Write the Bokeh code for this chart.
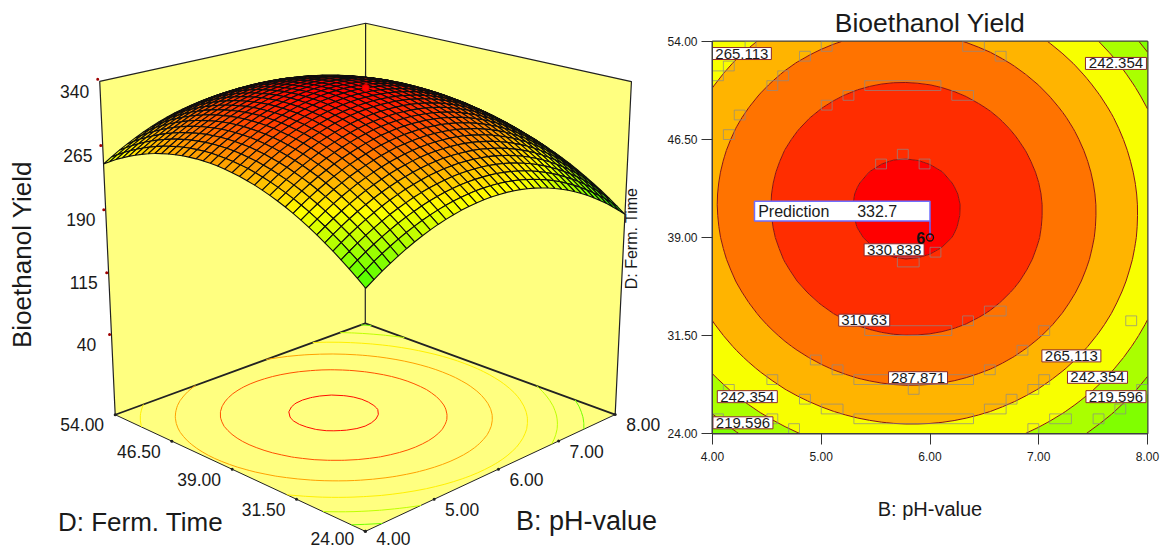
import numpy as np
from bokeh.core.properties import value
from bokeh.embed import file_html
from bokeh.layouts import row
from bokeh.models import ColumnDataSource, FixedTicker, PrintfTickFormatter, Range1d
from bokeh.plotting import figure
from bokeh.plotting.contour import contour_data
from bokeh.resources import INLINE

# ---- values ----
ph_grid = [4.000, 4.111, 4.222, 4.333, 4.444, 4.556, 4.667, 4.778, 4.889, 5.000, 5.111, 5.222,
           5.333, 5.444, 5.556, 5.667, 5.778, 5.889, 6.000, 6.111, 6.222, 6.333, 6.444, 6.556,
           6.667, 6.778, 6.889, 7.000, 7.111, 7.222, 7.333, 7.444, 7.556, 7.667, 7.778, 7.889,
           8.000]
time_grid = [24.0, 24.83, 25.67, 26.5, 27.33, 28.17, 29.0, 29.83, 30.67, 31.5, 32.33, 33.17,
             34.0, 34.83, 35.67, 36.5, 37.33, 38.17, 39.0, 39.83, 40.67, 41.5, 42.33, 43.17,
             44.0, 44.83, 45.67, 46.5, 47.33, 48.17, 49.0, 49.83, 50.67, 51.5, 52.33, 53.17,
             54.0]
peak_yield = 334.6
# section through the peak along pH, and along fermentation time
yield_vs_ph = [285.5, 291.4, 297.0, 302.1, 306.9, 311.3, 315.4, 319.0, 322.2, 325.1, 327.6,
               329.7, 331.5, 332.8, 333.8, 334.4, 334.6, 334.4, 333.9, 333.0, 331.7, 330.0,
               327.9, 325.5, 322.6, 319.4, 315.8, 311.9, 307.5, 302.8, 297.7, 292.2, 286.3,
               280.1, 273.4, 266.4, 259.0]
yield_vs_time = [258.9, 266.0, 272.9, 279.3, 285.4, 291.1, 296.5, 301.5, 306.2, 310.5, 314.5,
                 318.1, 321.3, 324.2, 326.8, 328.9, 330.8, 332.2, 333.4, 334.1, 334.5, 334.6,
                 334.3, 333.6, 332.6, 331.2, 329.5, 327.4, 325.0, 322.2, 319.0, 315.5, 311.6,
                 307.4, 302.9, 297.9, 292.7]
# slight tilt of the ellipses: pH factor and time factor of the cross term
tilt_ph = [.176, .165, .154, .143, .132, .121, .110, .099, .088, .077, .066, .055, .045, .034,
           .023, .012, .001, -.010, -.021, -.032, -.043, -.054, -.065, -.076, -.087, -.098,
           -.109, -.120, -.131, -.142, -.152, -.163, -.174, -.185, -.196, -.207, -.218]
tilt_time = [-17.2, -16.37, -15.53, -14.7, -13.87, -13.03, -12.2, -11.37, -10.53, -9.7, -8.87,
             -8.03, -7.2, -6.37, -5.53, -4.7, -3.87, -3.03, -2.2, -1.37, -.53, .3, 1.13, 1.97,
             2.8, 3.63, 4.47, 5.3, 6.13, 6.97, 7.8, 8.63, 9.47, 10.3, 11.13, 11.97, 12.8]

contour_levels = [219.596, 242.354, 265.113, 287.871, 310.63, 330.838]
band_colors = ["#80ff00", "#aaff00", "#f8ff00", "#ffb400", "#ff7300", "#ff2d00", "#ff0000"]
band_limits = [180.0, 340.0]

ph_ticks = [4.0, 5.0, 6.0, 7.0, 8.0]
time_ticks = [24.0, 31.5, 39.0, 46.5, 54.0]
yield_ticks = [40, 115, 190, 265, 340]
yield_floor = -58.0
yield_top = 340.0

pred_ph = [6.0]
pred_time = [39.0]
pred_yield = [332.7]
pred_count = ["6"]

label_text = ["265.113", "242.354", "330.838", "310.63", "287.871", "265.113", "242.354",
              "219.596", "242.354", "219.596"]
label_ph = [4.27, 7.71, 5.67, 5.395, 5.89, 7.30, 7.54, 7.71, 4.32, 4.28]
label_time = [53.08, 52.32, 38.06, 32.67, 28.27, 29.94, 28.30, 26.82, 26.82, 24.82]
label_width = [59, 61, 60, 51, 59, 59, 60, 60, 60, 60]

# grey grid cells left along the contours in the reference
cell_ph0 = [5.4, 5.2, 6.2, 5.0, 5.5, 5.9, 5.7, 6.0, 5.7, 4.3, 5.0, 4.8, 6.3, 6.6, 4.1, 4.0, 4.6,
            4.5, 4.2, 4.1, 5.4, 6.3, 6.5, 6.8, 7.0, 6.5, 4.9, 5.1, 5.3, 5.8, 4.5, 4.8, 5.0, 5.3,
            6.5, 6.7, 6.9, 7.0, 7.1, 6.9, 4.7, 4.5, 4.1, 4.0, 7.5, 7.7, 7.9, 7.8]
cell_ph1 = [6.1, 5.3, 6.4, 5.1, 5.6, 6.0, 5.8, 6.1, 5.9, 4.4, 5.1, 4.9, 6.5, 6.7, 4.2, 4.1, 4.7,
            4.6, 4.3, 4.2, 6.2, 6.4, 6.7, 6.9, 7.1, 6.6, 5.0, 5.2, 6.4, 5.9, 4.6, 4.9, 5.2, 6.4,
            6.7, 6.8, 7.0, 7.1, 7.3, 7.0, 4.8, 4.6, 4.2, 4.1, 7.6, 7.8, 8.0, 7.9]
cell_t0 = [50.25, 49.5, 49.5, 48.75, 44.25, 44.25, 45.0, 37.5, 36.75, 53.25, 53.25, 52.5, 53.25,
           52.5, 51.75, 51.0, 51.0, 50.25, 48.0, 46.5, 31.5, 32.25, 33.0, 30.0, 31.5, 28.5, 29.25,
           28.5, 27.75, 27.0, 27.75, 26.25, 25.5, 24.75, 25.5, 26.25, 27.0, 27.75, 24.75, 24.0,
           24.0, 24.75, 27.0, 24.75, 24.75, 25.5, 27.0, 32.25]
cell_t1 = [51.0, 50.25, 50.25, 49.5, 45.0, 45.0, 45.75, 38.25, 37.5, 54.0, 54.0, 53.25, 54.0,
           53.25, 52.5, 51.75, 51.75, 51.0, 48.75, 47.25, 32.25, 33.0, 33.75, 30.75, 32.25, 29.25,
           30.0, 29.25, 28.5, 27.75, 28.5, 27.0, 26.25, 25.5, 26.25, 27.0, 27.75, 28.5, 25.5, 24.75,
           24.75, 25.5, 27.75, 25.5, 25.5, 26.25, 27.75, 33.0]

FONT = value("Liberation Sans")
INK = "#1a1a1a"
WALL = "#ffff80"

ph = np.array(ph_grid)
tm = np.array(time_grid)
# rows = time, columns = pH
Z = (np.array(yield_vs_time)[:, None] + np.array(yield_vs_ph)[None, :] - peak_yield
     + np.array(tilt_time)[:, None] * np.array(tilt_ph)[None, :])

# ---- 3D view: homography fitted to the corners of the box as seen in the picture ----
cube = [(0, 0, 0, 365.0, 531.0), (1, 0, 0, 614.5, 414.0), (0, 1, 0, 114.5, 414.0),
        (1, 1, 0, 365.0, 323.0), (1, 1, 1, 365.0, 22.7), (1, 0, 1, 631.0, 81.0),
        (0, 1, 1, 99.3, 81.0)]
A, b = [], []
for X, Y, W, sx, sy in cube:
    A.append([X, Y, W, 1, 0, 0, 0, 0, -sx * X, -sx * Y, -sx * W]); b.append(sx)
    A.append([0, 0, 0, 0, X, Y, W, 1, -sy * X, -sy * Y, -sy * W]); b.append(sy)
H = np.linalg.lstsq(np.array(A, float), np.array(b, float), rcond=None)[0]


def project(B, D, Y):
    u = (np.asarray(B, float) - 4.0) / 4.0
    v = (np.asarray(D, float) - 24.0) / 30.0
    w = (np.asarray(Y, float) - yield_floor) / (yield_top - yield_floor)
    d = H[8] * u + H[9] * v + H[10] * w + 1
    return (H[0] * u + H[1] * v + H[2] * w + H[3]) / d, (H[4] * u + H[5] * v + H[6] * w + H[7]) / d


def ramp(z, lo=187.0, hi=334.6):
    t = min(max((z - lo) / (hi - lo), 0.0), 1.0)
    if t < 0.5:
        return "#%02x%02x00" % (int(510 * t), 255)
    return "#ff%02x00" % int(255 - (t - 0.5) * 510)


def label(p, x, y, text, size, angle=0.0, align="center", style="normal", color=INK):
    p.text(x=[x], y=[y], text=[text], text_font=FONT, text_font_size=size, angle=angle,
           text_align=align, text_baseline="middle", text_font_style=style, text_color=color)


# ---- left: response surface ----
left = figure(width=660, height=550, x_range=Range1d(0, 660), y_range=Range1d(550, 0),
              x_axis_type=None, y_axis_type=None, toolbar_location=None, output_backend="svg",
              min_border=0, outline_line_color=None)
left.frame_align = False
left.grid.visible = False

b0, b1, d0, d1 = ph_ticks[0], ph_ticks[-1], time_ticks[0], time_ticks[-1]
for corners in ([(b0, d1), (b1, d1)], [(b1, d1), (b1, d0)]):
    (ba, da), (bb, db) = corners
    xs, ys = project([ba, bb, bb, ba], [da, db, db, da],
                     [yield_floor, yield_floor, yield_top, yield_top])
    left.patch(list(xs), list(ys), fill_color=WALL, line_color=None)
xs, ys = project([b0, b1, b1, b0], [d0, d0, d1, d1], [yield_floor] * 4)
left.patch(list(xs), list(ys), fill_color=WALL, line_color=None)

# box edges
for pts, lw in (([(b0, d1, yield_floor), (b0, d1, yield_top), (b1, d1, yield_top),
                  (b1, d0, yield_top), (b1, d0, yield_floor)], 1.2),
                ([(b1, d1, yield_floor), (b1, d1, yield_top)], 1.2),
                ([(b0, d1, yield_floor), (b1, d1, yield_floor), (b1, d0, yield_floor)], 1.8),
                ([(b0, d1, yield_floor), (b0, d0, yield_floor), (b1, d0, yield_floor)], 1.0)):
    arr = np.array(pts)
    xs, ys = project(arr[:, 0], arr[:, 1], arr[:, 2])
    left.line(list(xs), list(ys), line_color="#222222", line_width=lw)

# contours on the floor
lines = contour_data(ph, tm, Z, contour_levels).line_data
for lx, ly, lev in zip(lines.xs, lines.ys, contour_levels):
    px, py = project(lx, ly, np.full(len(lx), yield_floor))
    left.line(list(px), list(py), line_color=ramp(lev), line_width=1)

# surface mesh, far quads first
qx, qy, qc, order = [], [], [], []
for i in range(len(ph) - 1):
    for j in range(len(tm) - 1):
        order.append((i + j, i, j))
SX, SY = project(ph[None, :], tm[:, None], Z)
for _, i, j in sorted(order, reverse=True):
    idx_j = [j, j, j + 1, j + 1]
    idx_i = [i, i + 1, i + 1, i]
    qx.append(SX[idx_j, idx_i].tolist())
    qy.append(SY[idx_j, idx_i].tolist())
    qc.append(ramp(float(Z[idx_j, idx_i].mean())))
left.patches("x", "y", source=ColumnDataSource(dict(x=qx, y=qy, c=qc)), fill_color="c",
             line_color="#0d0d0d", line_width=1.1)

mx, my = project(pred_ph, pred_time, pred_yield)
left.scatter(list(mx), list(my), size=7, fill_color="#ff0000", line_color="#e00000")

# ticks and tick labels
tx, ty = project([b0] * 5, [d1] * 5, yield_ticks)
left.scatter(list(tx - 2), list(ty - 2), size=3, fill_color="#a00000", line_color=None)
for x, y, t in zip(tx, ty, yield_ticks):
    label(left, x - 25, y + (10 if t == yield_ticks[-1] else 8), str(t), "17.5px")
tx, ty = project([b0] * 5, time_ticks, [yield_floor] * 5)
left.scatter(list(tx), list(ty), size=3, fill_color="#222222", line_color=None)
for x, y, t in zip(tx, ty, time_ticks):
    label(left, x - 33, y + (7.5 if t == d0 else 10), "%.2f" % t, "17.5px")
tx, ty = project(ph_ticks, [d0] * 5, [yield_floor] * 5)
left.scatter(list(tx), list(ty), size=3, fill_color="#222222", line_color=None)
for x, y, t in zip(tx, ty, ph_ticks):
    label(left, x + 28, y + (7.5 if t == b0 else 10), "%.2f" % t, "17.5px")

label(left, 21, 254, "Bioethanol Yield", "26px", angle=np.pi / 2)
label(left, 140, 521, "D: Ferm. Time", "26px")
label(left, 586, 520, "B: pH-value", "27px")
label(left, 631, 238, "D: Ferm. Time", "16px", angle=np.pi / 2)

# ---- right: contour map ----
right = figure(width=504, height=550, x_range=Range1d(4, 8), y_range=Range1d(24, 54),
               toolbar_location=None, output_backend="svg", min_border_left=52,
               min_border_right=17, min_border_top=41, min_border_bottom=117,
               title="Bioethanol Yield", x_axis_label="B: pH-value")
right.frame_align = False
right.title.align = "center"
right.title.text_font = "Liberation Sans"
right.title.text_font_size = "26.5px"
right.title.text_font_style = "normal"
right.title.text_color = INK
right.title.standoff = 7
right.grid.visible = False
right.outline_line_color = "#404040"
right.outline_line_width = 2
for ax, ticks in ((right.xaxis[0], ph_ticks), (right.yaxis[0], time_ticks)):
    ax.ticker = FixedTicker(ticks=ticks)
    ax.formatter = PrintfTickFormatter(format="%.2f")
    ax.major_tick_out = 11
    ax.major_tick_in = 0
    ax.minor_tick_line_color = None
    ax.major_tick_line_color = "#333333"
    ax.axis_line_color = "#404040"
    ax.major_label_text_font = "Liberation Sans"
    ax.major_label_text_font_size = "12px"
    ax.major_label_text_color = INK
right.xaxis[0].major_label_standoff = 7
right.yaxis[0].major_label_standoff = 4
right.xaxis[0].axis_label_text_font = "Liberation Sans"
right.xaxis[0].axis_label_text_font_size = "20px"
right.xaxis[0].axis_label_text_font_style = "normal"
right.xaxis[0].axis_label_text_color = INK
right.xaxis[0].axis_label_standoff = 34

levels = [band_limits[0]] + contour_levels + [band_limits[1]]
right.contour(ph, tm, Z, levels, fill_color=band_colors, line_color="#8a1410", line_width=1)

right.quad(left=cell_ph0, right=cell_ph1, bottom=cell_t0, top=cell_t1, fill_color=None,
           line_color="#8a8a8a", line_alpha=0.7, line_width=1)

right.rect(label_ph, label_time, width=label_width, height=[12] * len(label_ph),
           width_units="screen", height_units="screen", fill_color="white",
           line_color="#8c2a2a", line_width=1)
right.text(label_ph, label_time, text=label_text, text_font=FONT, text_font_size="15px",
           text_align="center", text_baseline="middle", text_color=INK)

# prediction flag
right.segment(pred_ph, pred_time, pred_ph, [40.26], line_color="#6464ff", line_width=1.5)
right.quad(left=[4.386], right=pred_ph, bottom=[40.26], top=[41.77], fill_color="white",
           line_color="#6e6eff", line_width=1.5)
right.text([4.42], [41.02], text=["Prediction"], text_font=FONT, text_font_size="16px",
           text_baseline="middle", text_color=INK)
right.text([5.33], [41.02], text=["%.1f" % pred_yield[0]], text_font=FONT, text_font_size="16px",
           text_baseline="middle", text_color=INK)
right.scatter(pred_ph, pred_time, size=7, fill_color=None, line_color="#111111", line_width=1.3)
right.text([5.955], pred_time, text=pred_count, text_font=FONT, text_font_size="16px",
           text_font_style="bold", text_align="right", text_baseline="middle", text_color="#111111")

page = row(left, right, spacing=0)
open("out.html", "w").write(file_html(page, INLINE))
